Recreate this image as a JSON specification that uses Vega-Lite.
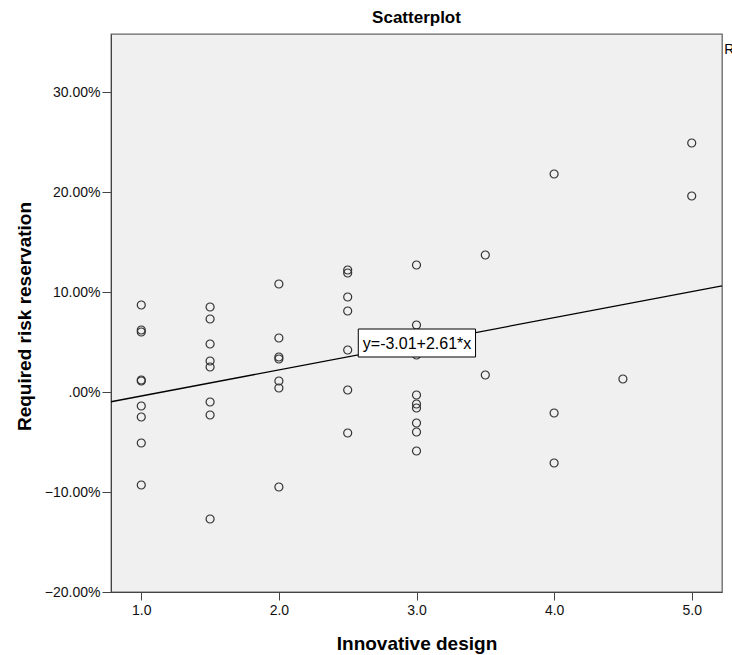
{
  "$schema": "https://vega.github.io/schema/vega-lite/v6.json",
  "width": 611,
  "height": 558,
  "autosize": "none",
  "padding": {"left": 111, "top": 34, "right": 10, "bottom": 63},
  "background": "white",
  "config": {
    "font": "Liberation Sans",
    "view": {"fill": "#f0f0f0", "stroke": "#666666", "strokeWidth": 1.3}
  },
  "title": {"text": "Scatterplot", "fontSize": 17, "fontWeight": "bold", "anchor": "middle", "offset": 7, "color": "#000"},
  "datasets": {
    "pts": [
      {"design": 1.0, "risk": 8.7}, {"design": 1.0, "risk": 6.2}, {"design": 1.0, "risk": 6.0},
      {"design": 1.0, "risk": 1.2}, {"design": 1.0, "risk": 1.1}, {"design": 1.0, "risk": -1.4},
      {"design": 1.0, "risk": -2.5}, {"design": 1.0, "risk": -5.1}, {"design": 1.0, "risk": -9.3},
      {"design": 1.5, "risk": 8.5}, {"design": 1.5, "risk": 7.3}, {"design": 1.5, "risk": 4.8},
      {"design": 1.5, "risk": 3.1}, {"design": 1.5, "risk": 2.5}, {"design": 1.5, "risk": -1.0},
      {"design": 1.5, "risk": -2.3}, {"design": 1.5, "risk": -12.7},
      {"design": 2.0, "risk": 10.8}, {"design": 2.0, "risk": 5.4}, {"design": 2.0, "risk": 3.5},
      {"design": 2.0, "risk": 3.3}, {"design": 2.0, "risk": 1.1}, {"design": 2.0, "risk": 0.4},
      {"design": 2.0, "risk": -9.5},
      {"design": 2.5, "risk": 12.2}, {"design": 2.5, "risk": 11.9}, {"design": 2.5, "risk": 9.5},
      {"design": 2.5, "risk": 8.1}, {"design": 2.5, "risk": 4.2}, {"design": 2.5, "risk": 0.2},
      {"design": 2.5, "risk": -4.1},
      {"design": 3.0, "risk": 12.7}, {"design": 3.0, "risk": 6.7}, {"design": 3.0, "risk": 3.7},
      {"design": 3.0, "risk": -0.3}, {"design": 3.0, "risk": -1.2}, {"design": 3.0, "risk": -1.6},
      {"design": 3.0, "risk": -3.1}, {"design": 3.0, "risk": -4.0}, {"design": 3.0, "risk": -5.9},
      {"design": 3.5, "risk": 13.7}, {"design": 3.5, "risk": 1.7},
      {"design": 4.0, "risk": 21.8}, {"design": 4.0, "risk": -2.1}, {"design": 4.0, "risk": -7.1},
      {"design": 4.5, "risk": 1.3},
      {"design": 5.0, "risk": 24.9}, {"design": 5.0, "risk": 19.6}
    ],
    "fit": [
      {"design": 0.78, "risk": -0.974},
      {"design": 5.22, "risk": 10.614}
    ],
    "box": [
      {"x1": 2.577, "x2": 3.429, "y1": 3.5, "y2": 6.3, "xc": 3.004, "yc": 4.85, "label": "y=-3.01+2.61*x"}
    ],
    "corner": [
      {"design": 5.237, "risk": 34.2, "label": "R² Linear"}
    ]
  },
  "layer": [
    {
      "data": {"name": "pts"},
      "mark": {"type": "point", "shape": "circle", "filled": false, "size": 64, "stroke": "#333333", "strokeWidth": 1.2, "opacity": 1},
      "encoding": {
        "x": {
          "field": "design", "type": "quantitative",
          "scale": {"domain": [0.78, 5.22], "nice": false, "zero": false},
          "axis": {
            "title": "Innovative design", "values": [1, 2, 3, 4, 5], "format": ".1f",
            "grid": false, "domainColor": "#444", "tickColor": "#444", "tickSize": 8,
            "labelFontSize": 14, "labelColor": "#111", "labelPadding": 3,
            "titleFontSize": 19, "titleFontWeight": "bold", "titleColor": "#000",
            "titleY": 57, "titleBaseline": "alphabetic"
          }
        },
        "y": {
          "field": "risk", "type": "quantitative",
          "scale": {"domain": [-20, 35.8], "nice": false, "zero": false},
          "axis": {
            "title": "Required risk reservation", "values": [-20, -10, 0, 10, 20, 30],
            "labelExpr": "datum.value == 0 ? '.00%' : format(datum.value, '.2f') + '%'",
            "grid": false, "domainColor": "#444", "tickColor": "#444", "tickSize": 9,
            "labelFontSize": 14, "labelColor": "#111", "labelPadding": 2,
            "titleFontSize": 19, "titleFontWeight": "bold", "titleColor": "#000",
            "titleX": -81, "titleY": 282, "titleAngle": -90, "titleBaseline": "alphabetic", "titleAlign": "center"
          }
        }
      }
    },
    {
      "data": {"name": "fit"},
      "mark": {"type": "line", "color": "#000", "strokeWidth": 1.3},
      "encoding": {
        "x": {"field": "design", "type": "quantitative"},
        "y": {"field": "risk", "type": "quantitative"}
      }
    },
    {
      "data": {"name": "box"},
      "mark": {"type": "rect", "fill": "white", "stroke": "#000", "strokeWidth": 1},
      "encoding": {
        "x": {"field": "x1", "type": "quantitative"},
        "x2": {"field": "x2"},
        "y": {"field": "y1", "type": "quantitative"},
        "y2": {"field": "y2"}
      }
    },
    {
      "data": {"name": "box"},
      "mark": {"type": "text", "fontSize": 16, "color": "#000", "align": "center", "baseline": "middle"},
      "encoding": {
        "x": {"field": "xc", "type": "quantitative"},
        "y": {"field": "yc", "type": "quantitative"},
        "text": {"field": "label"}
      }
    },
    {
      "data": {"name": "corner"},
      "mark": {"type": "text", "fontSize": 14, "color": "#000", "align": "left", "baseline": "middle"},
      "encoding": {
        "x": {"field": "design", "type": "quantitative"},
        "y": {"field": "risk", "type": "quantitative"},
        "text": {"field": "label"}
      }
    }
  ]
}
